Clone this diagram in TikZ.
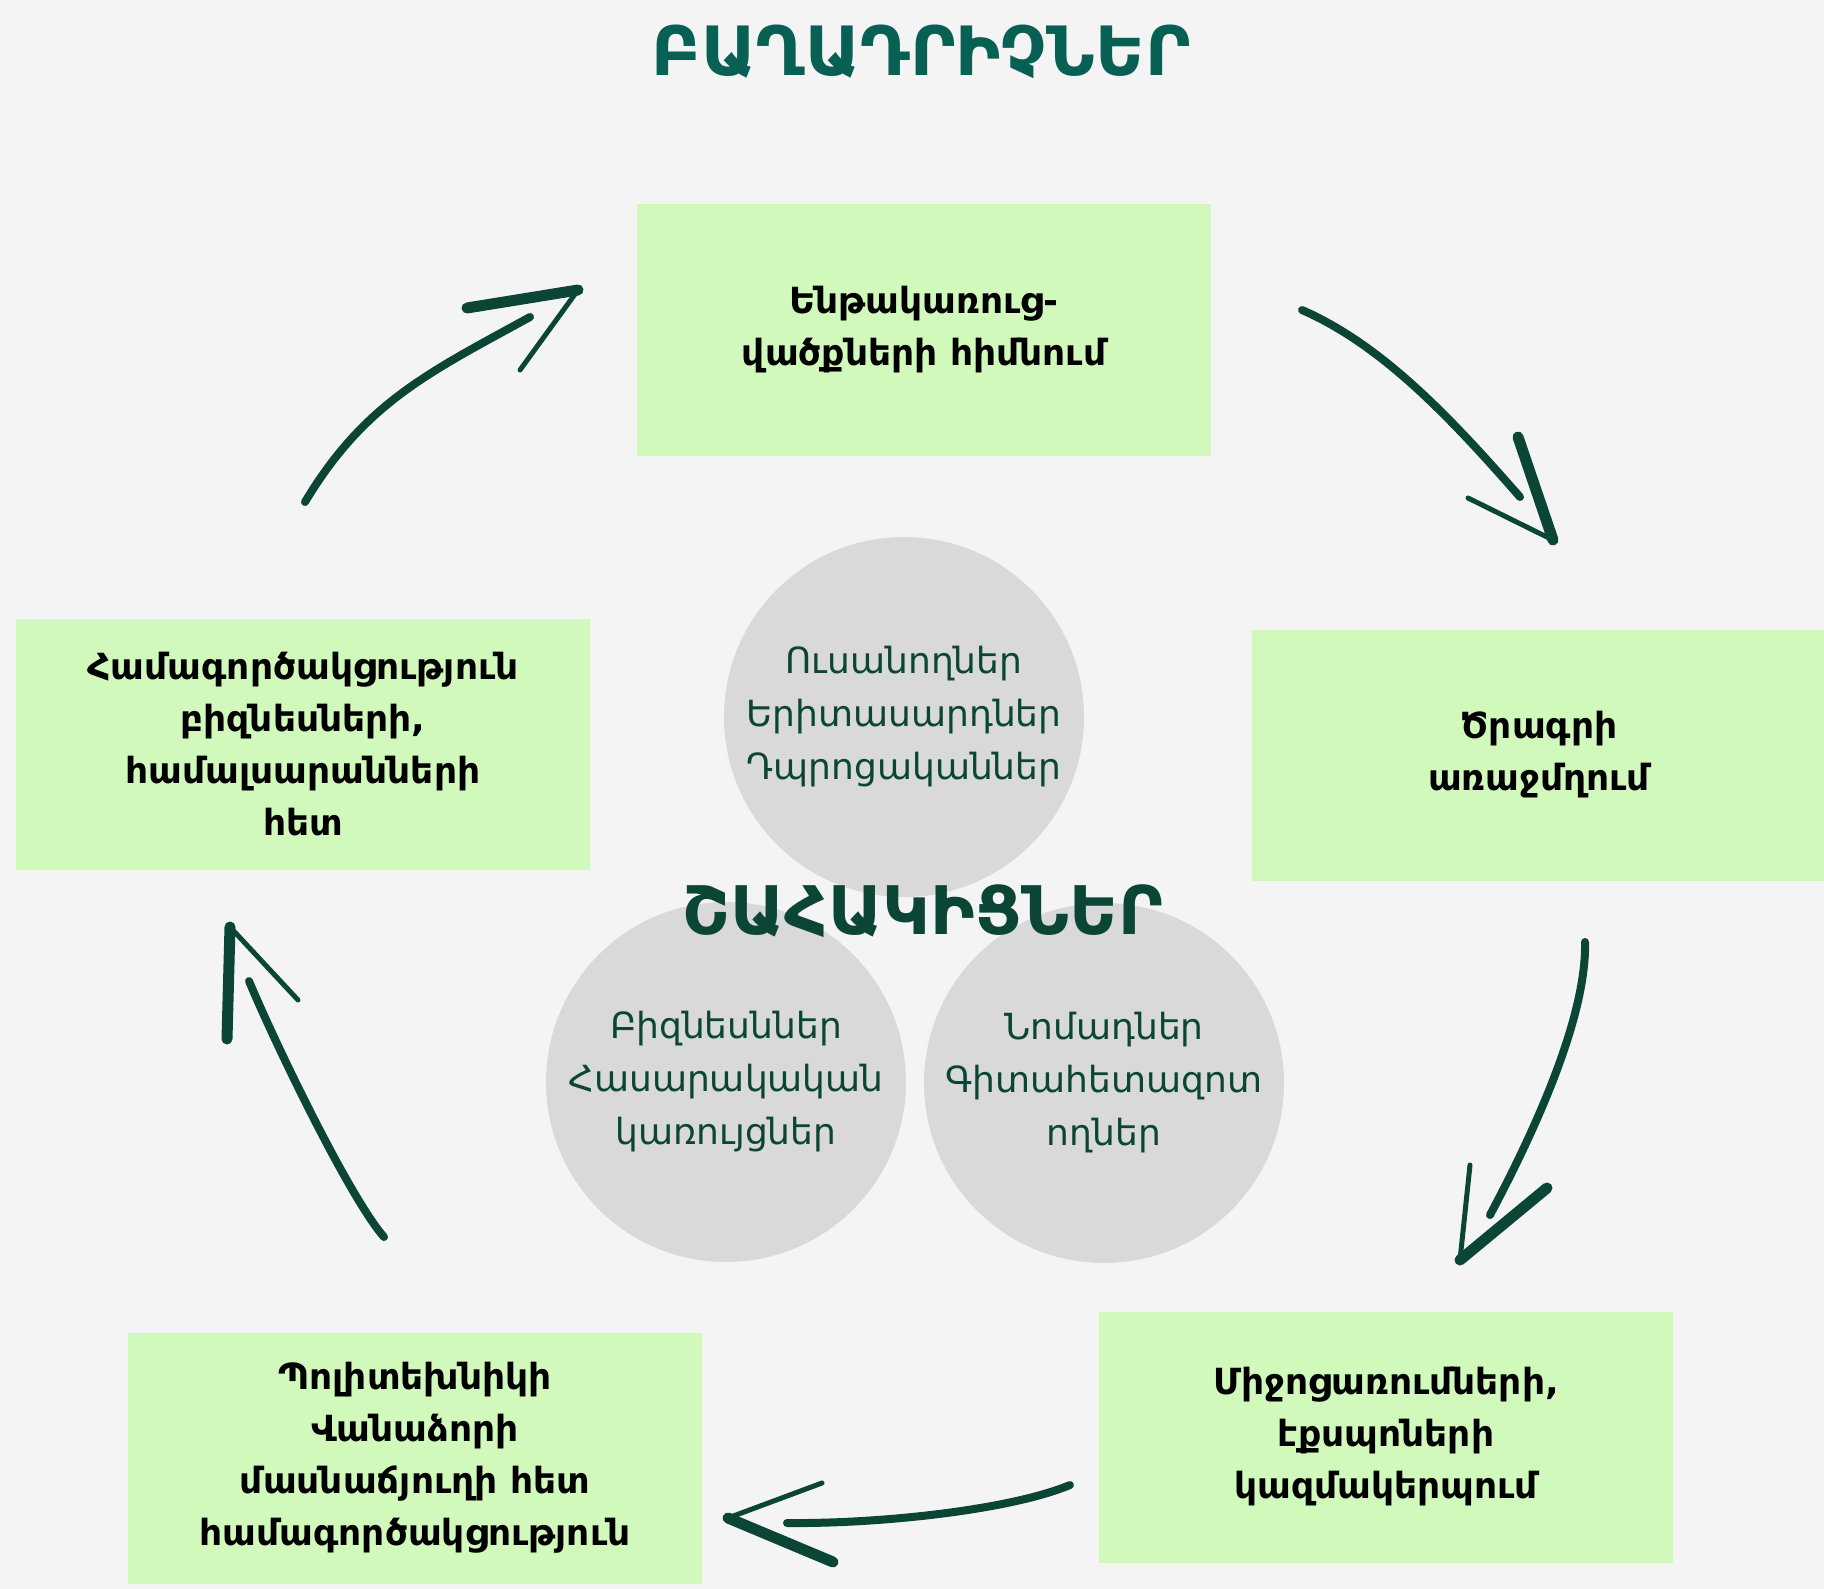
\documentclass[tikz,border=0pt]{standalone}
\usepackage{fontspec}
\setmainfont{DejaVu Sans}
\definecolor{canvas}{HTML}{F4F4F4}
\definecolor{boxgreen}{HTML}{D1F9BC}
\definecolor{discgray}{HTML}{D9D9D9}
\definecolor{ink}{HTML}{0B4535}
\definecolor{titleteal}{HTML}{086054}

\begin{document}
\begin{tikzpicture}[x=1pt, y=-1pt,
    stepbox/.style={fill=boxgreen, minimum width=574pt, minimum height=251pt,
      inner sep=0pt, align=center, font=\fontsize{36}{52}\selectfont\bfseries},
    disc/.style={circle, fill=discgray, minimum size=360pt, inner sep=0pt,
      align=center, text=ink, font=\fontsize{36}{53}\selectfont},
    shaft/.style={draw=ink, line width=8pt, line cap=round},
    headbold/.style={draw=ink, line width=11pt, line cap=round},
    headthin/.style={draw=ink, line width=5pt, line cap=round}]

  % canvas
  \fill[canvas] (0,0) rectangle (1824,1589);
  \useasboundingbox (0,0) rectangle (1824,1589);

  % heading
  \node[text=titleteal, font=\fontsize{68}{68}\selectfont\bfseries] (title) at (921,52) {ԲԱՂԱԴՐԻՉՆԵՐ};

  % steps of the cycle
  \node[stepbox] (base) at (924,330) {Ենթակառուց-\\վածքների հիմնում};
  \node[stepbox] (program) at (1539,755) {Ծրագրի\\առաջմղում};
  \node[stepbox] (events) at (1386,1437) {Միջոցառումների,\\էքսպոների\\կազմակերպում};
  \node[stepbox] (college) at (415,1458) {Պոլիտեխնիկի\\Վանաձորի\\մասնաճյուղի հետ\\համագործակցություն};
  \node[stepbox] (partnership) at (303,744) {Համագործակցություն\\բիզնեսների,\\համալսարանների\\հետ};

  % stakeholders
  \node[disc] (pupils) at (904,717) {Ուսանողներ\\Երիտասարդներ\\Դպրոցականներ};
  \node[disc] (business) at (726,1082) {Բիզնեսններ\\Հասարակական\\կառույցներ};
  \node[disc] (research) at (1104,1083) {Նոմադներ\\Գիտահետազոտ\\ողներ};
  \node[text=ink, font=\fontsize{67}{67}\selectfont\bfseries] (partners) at (923,911) {ՇԱՀԱԿԻՑՆԵՐ};

  % sketchy arrows: start, controls, end, tip, bold barb, thin barb
  \foreach \n/\s/\p/\q/\e/\t/\k/\h in {
      1/{305,502}/{365,402}/{430,372}/{530,317}/{578,290}/{467,308}/{520,370},
      2/{1302,310}/{1382,345}/{1450,417}/{1520,497}/{1553,540}/{1518,437}/{1468,498},
      3/{1585,942}/{1587,1020}/{1530,1140}/{1490,1215}/{1460,1260}/{1547,1188}/{1470,1165},
      4/{1070,1485}/{1010,1510}/{880,1524}/{787,1523}/{728,1518}/{833,1562}/{822,1483},
      5/{384,1237}/{349,1197}/{274,1041}/{249,981}/{230,927}/{227,1039}/{298,1000}} {
    \coordinate (s\n) at (\s);
    \coordinate (p\n) at (\p);
    \coordinate (q\n) at (\q);
    \coordinate (e\n) at (\e);
    \coordinate (t\n) at (\t);
    \coordinate (k\n) at (\k);
    \coordinate (h\n) at (\h);
    \draw[shaft] (s\n) .. controls (p\n) and (q\n) .. (e\n);
    \draw[headbold] (k\n) -- (t\n);
    \draw[headthin] (t\n) -- (h\n);
  }
\end{tikzpicture}
\end{document}
